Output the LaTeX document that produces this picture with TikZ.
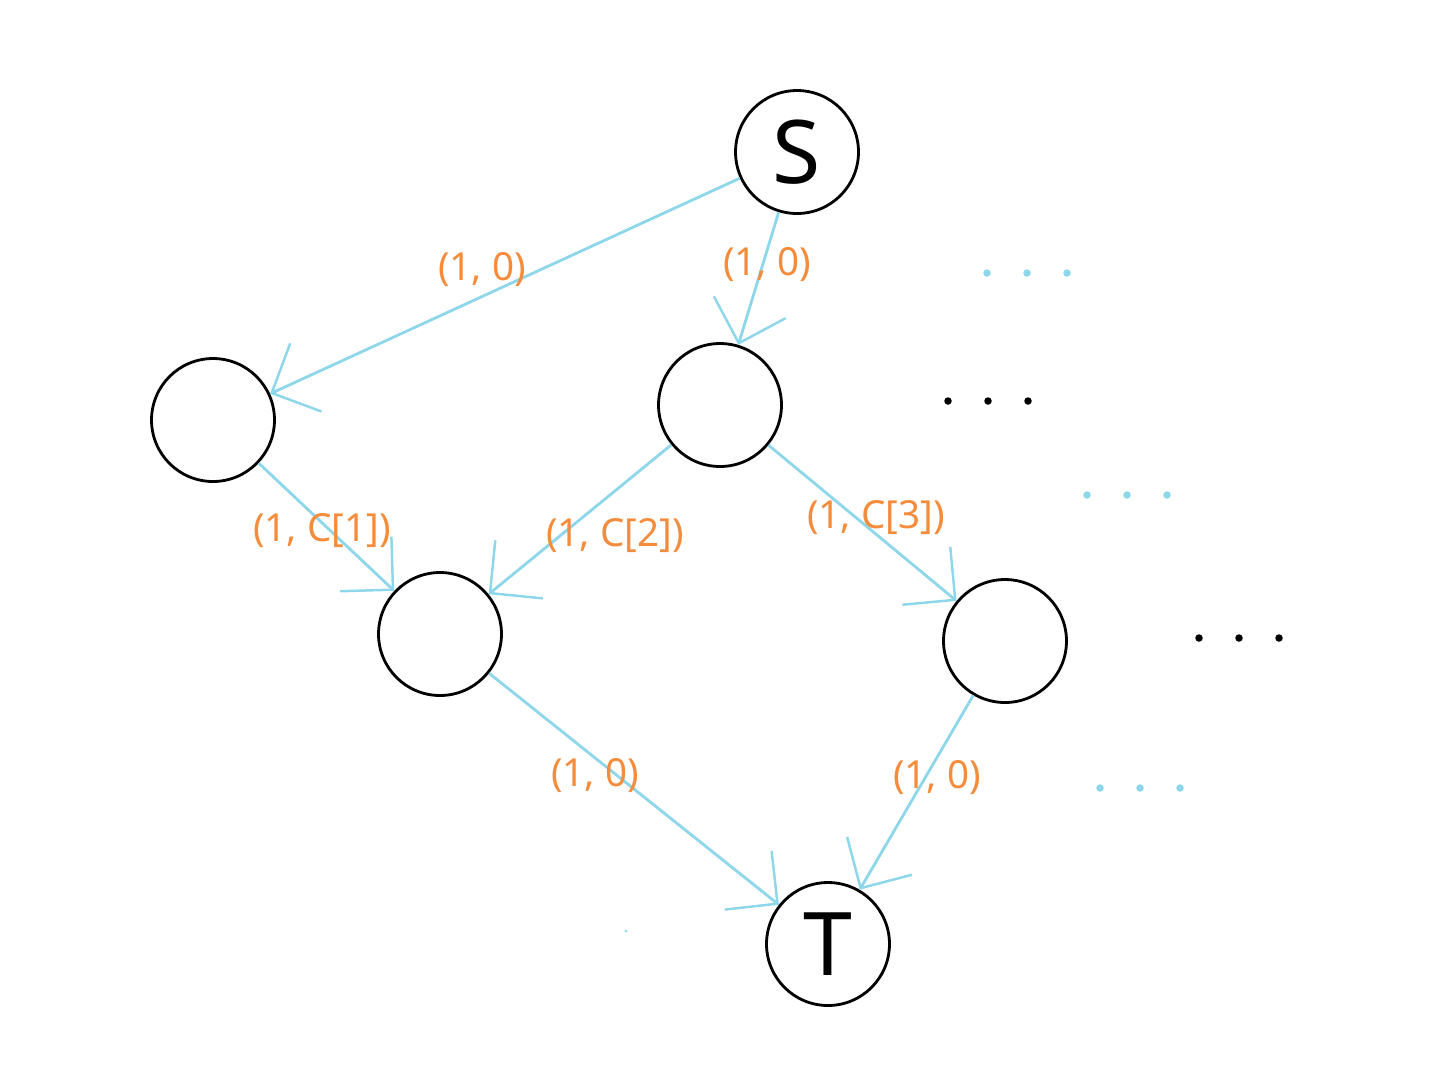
\documentclass[tikz,border=0pt]{standalone}
\usepackage{fontspec}
\setmainfont{Noto Sans}
\usetikzlibrary{arrows.meta}
\definecolor{edge}{HTML}{8ED6EA}
\definecolor{lab}{HTML}{F58C3C}
\begin{document}
\begin{tikzpicture}[x=0.02cm,y=-0.02cm,
  nd/.style={circle,draw=black,line width=1.6pt,minimum size=2.46cm,inner sep=0pt,font=\fontsize{50}{50}\selectfont},
  ed/.style={draw=edge,line width=1.6pt,-{Straight Barb[length=0.75cm,width=1.5cm,line width=1.4pt]}},
  lb/.style={text=lab,font=\fontsize{22}{22}\selectfont,inner sep=0pt},
  cd/.style={circle,fill=edge,inner sep=0pt,minimum size=0.15cm},
  bd/.style={circle,fill=black,inner sep=0pt,minimum size=0.15cm}]
\useasboundingbox (0,0) rectangle (1450,1080);
\node[nd] (S) at (797,152) {S};
\node[nd] (A) at (213,420) {};
\node[nd] (B) at (720,405) {};
\node[nd] (C) at (440,634) {};
\node[nd] (D) at (1005,641) {};
\node[nd] (T) at (828,944) {T};
\draw[ed] (S) -- (A);
\draw[ed] (S) -- (B);
\draw[ed] (A) -- (C);
\draw[ed] (B) -- (C);
\draw[ed] (B) -- (D);
\draw[ed] (C) -- (T);
\draw[ed] (D) -- (T);
\node[lb] (l1) at (482,270) {(1, 0)};
\node[lb] (l2) at (767,265) {(1, 0)};
\node[lb] (l3) at (322,531) {(1, C[1])};
\node[lb] (l4) at (615,536) {(1, C[2])};
\node[lb] (l5) at (876,518) {(1, C[3])};
\node[lb] (l6) at (595,776) {(1, 0)};
\node[lb] (l7) at (937,778) {(1, 0)};
\foreach \x [count=\i] in {987,1027,1067} \node[cd] (c1\i) at (\x,273) {};
\foreach \x [count=\i] in {948,988,1028} \node[bd] (b1\i) at (\x,401) {};
\foreach \x [count=\i] in {1087,1127,1167} \node[cd] (c2\i) at (\x,495) {};
\foreach \x [count=\i] in {1199,1239,1279} \node[bd] (b2\i) at (\x,638) {};
\foreach \x [count=\i] in {1100,1140,1180} \node[cd] (c3\i) at (\x,788) {};
\node[circle,fill=edge,inner sep=0pt,minimum size=0.06cm] (sp) at (626,931) {};
\end{tikzpicture}
\end{document}
